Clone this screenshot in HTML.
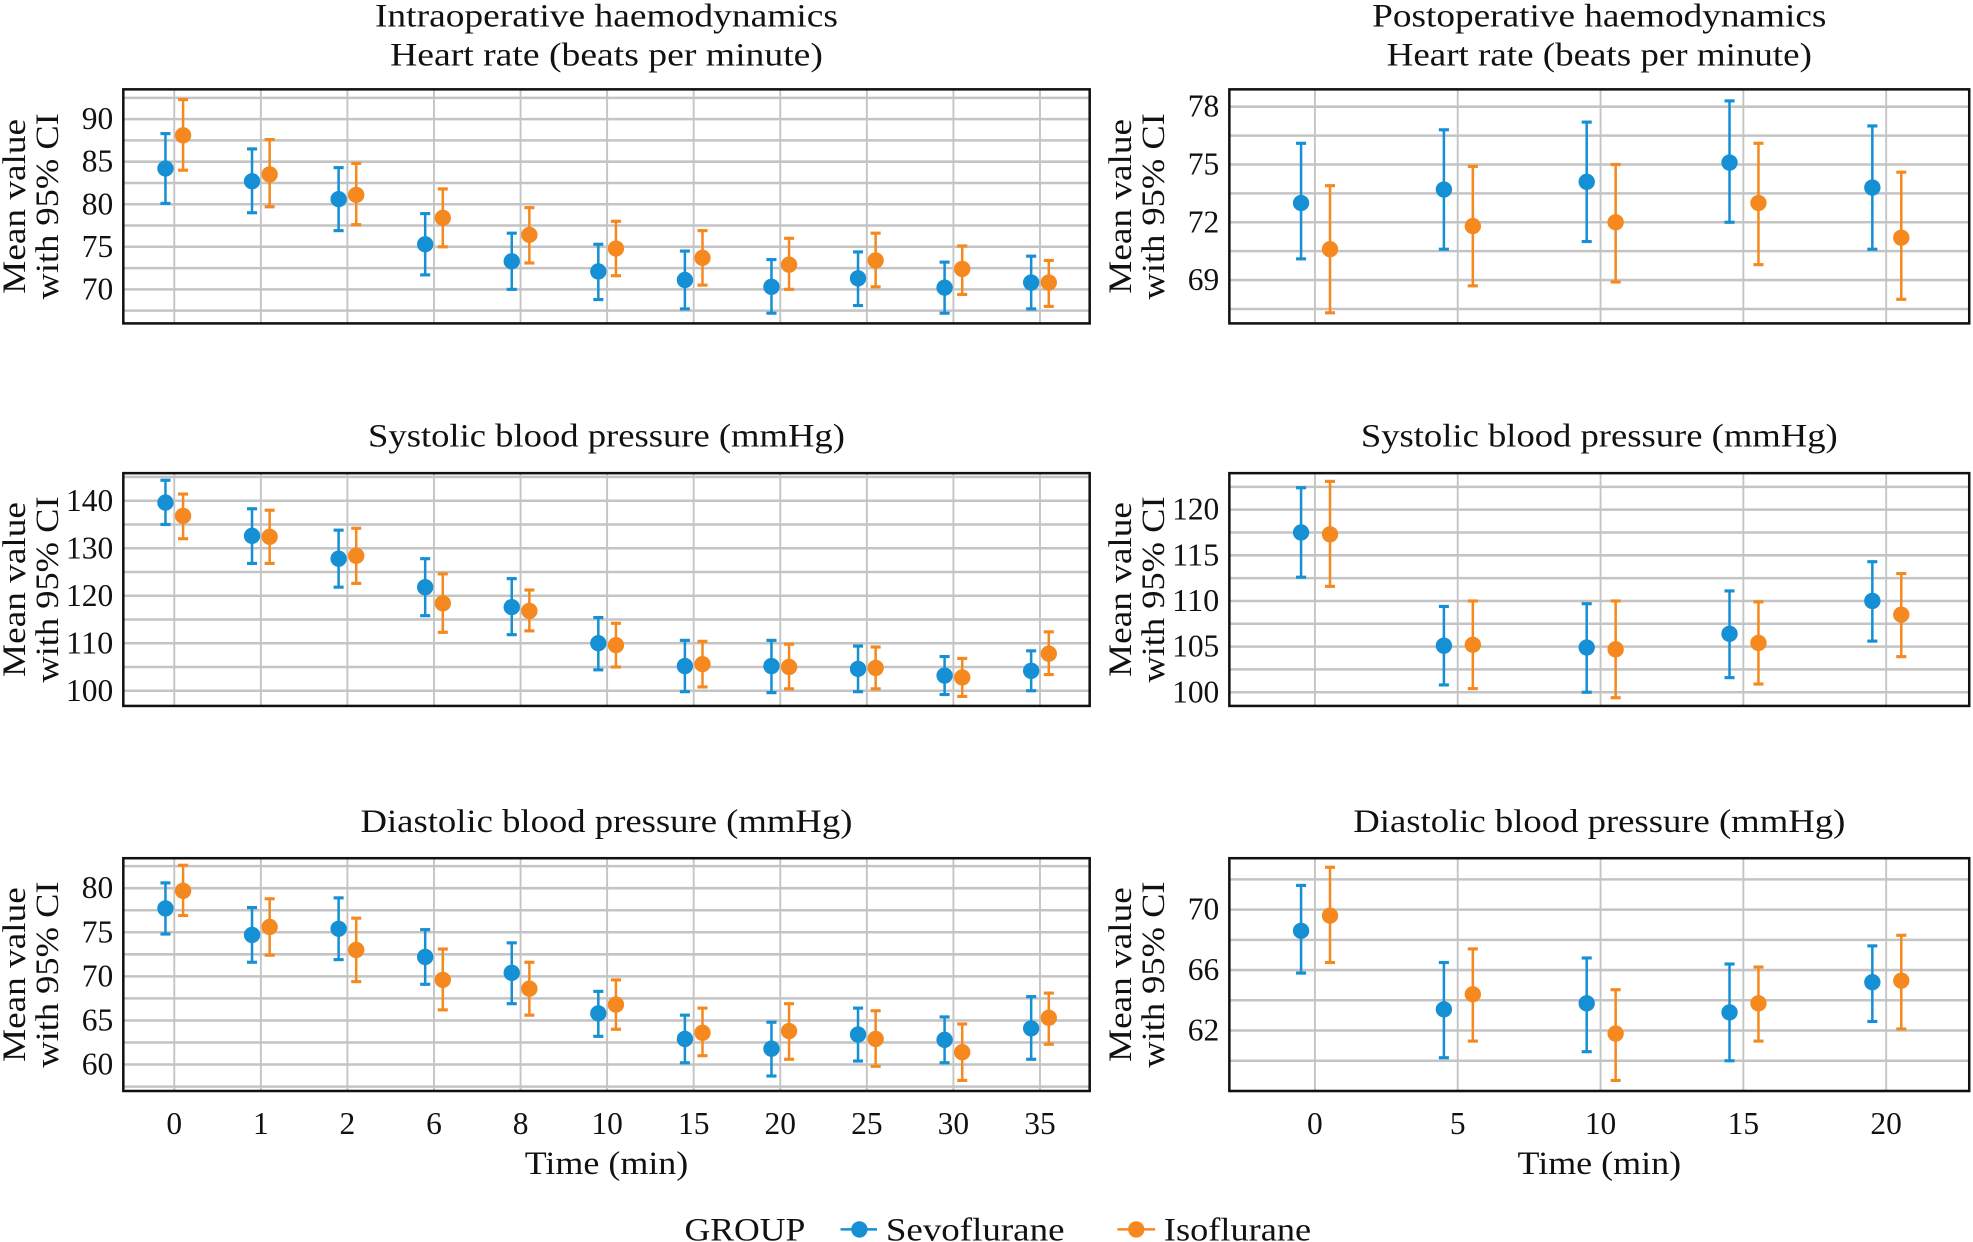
<!DOCTYPE html>
<html><head><meta charset="utf-8"><style>
html,body{margin:0;padding:0;background:#fff;}
svg{display:block;}
text{font-family:"Liberation Serif",serif;fill:#111;}
</style></head><body>
<svg id="s" width="1973" height="1242" viewBox="0 0 1568 987" preserveAspectRatio="none" xmlns="http://www.w3.org/2000/svg"></svg>
<script>
const S=document.getElementById('s');const NS='http://www.w3.org/2000/svg';
function el(t,a,txt){const e=document.createElementNS(NS,t);for(const k in a)e.setAttribute(k,a[k]);if(txt!==undefined)e.textContent=txt;S.appendChild(e);return e;}
function tx(a,txt,len){if(len){a.textLength=len;a.lengthAdjust='spacingAndGlyphs';}return el('text',a,txt);}
const BLUE='#1590d4',ORG='#f5891f';
const L={x0:98,x1:866,cx:i=>138.5+68.8*i,off:[-7,7],cats:['0','1','2','6','8','10','15','20','25','30','35']};
const R={x0:977,x1:1565,cx:i=>1045+113.5*i,off:[-11,12],cats:['0','5','10','15','20']};
const rows=[[71,257],[376,561],[682,867]];
const panels=[
{c:L,r:0,min:66,max:93.5,step:2.5,labs:[70,75,80,85,90],title:['Intraoperative haemodynamics','Heart rate (beats per minute)'],tl:[368,344],
S:[[84.2,80.1,88.3],[82.7,79,86.5],[80.6,76.9,84.3],[75.3,71.7,78.9],[73.3,70,76.6],[72.1,68.8,75.3],[71.1,67.7,74.5],[70.3,67.2,73.5],[71.3,68.1,74.4],[70.2,67.2,73.2],[70.8,67.7,73.9]],
I:[[88.1,84,92.3],[83.5,79.7,87.6],[81.1,77.6,84.8],[78.4,75,81.8],[76.4,73.1,79.6],[74.8,71.6,78],[73.7,70.5,76.9],[72.9,70,76],[73.4,70.3,76.6],[72.4,69.4,75.1],[70.8,68,73.4]]},
{c:R,r:0,min:66.75,max:78.9,step:1.5,labs:[69,72,75,78],title:['Postoperative haemodynamics','Heart rate (beats per minute)'],tl:[361,338],
S:[[73,70.1,76.1],[73.7,70.6,76.8],[74.1,71,77.2],[75.1,72,78.3],[73.8,70.6,77]],
I:[[70.6,67.3,73.9],[71.8,68.7,74.9],[72,68.9,75],[73,69.8,76.1],[71.2,68,74.6]]},
{c:L,r:1,min:96.8,max:145.8,step:5,labs:[100,110,120,130,140],title:['Systolic blood pressure (mmHg)'],tl:[379],
S:[[139.6,135,144.3],[132.6,126.8,138.3],[127.8,121.8,133.8],[121.8,115.8,127.8],[117.6,111.8,123.6],[110,104.4,115.4],[105.2,99.8,110.6],[105.2,99.6,110.6],[104.6,99.8,109.4],[103.2,99.2,107.2],[104.2,100,108.4]],
I:[[136.8,132,141.4],[132.4,126.8,138],[128.4,122.6,134.2],[118.4,112.3,124.6],[116.8,112.6,121.2],[109.6,105,114.2],[105.6,100.8,110.4],[105,100.4,109.8],[104.8,100.4,109.2],[102.8,98.8,106.8],[107.8,103.4,112.4]]},
{c:R,r:1,min:98.5,max:124,step:2.5,labs:[100,105,110,115,120],title:['Systolic blood pressure (mmHg)'],tl:[379],
S:[[117.5,112.6,122.4],[105.1,100.8,109.4],[104.9,100,109.7],[106.4,101.6,111.1],[110,105.6,114.3]],
I:[[117.3,111.6,123.1],[105.2,100.4,110],[104.7,99.4,110],[105.4,100.9,109.9],[108.5,103.9,113]]},
{c:L,r:2,min:57,max:83.4,step:2.5,labs:[60,65,70,75,80],title:['Diastolic blood pressure (mmHg)'],tl:[391],
S:[[77.7,74.8,80.6],[74.7,71.6,77.8],[75.4,71.9,78.9],[72.2,69.1,75.3],[70.4,66.9,73.8],[65.8,63.2,68.3],[62.9,60.2,65.6],[61.8,58.7,64.8],[63.4,60.4,66.4],[62.8,60.2,65.4],[64.1,60.6,67.7]],
I:[[79.7,76.9,82.6],[75.6,72.4,78.8],[73,69.4,76.6],[69.6,66.2,73.1],[68.6,65.6,71.6],[66.8,64,69.6],[63.6,61,66.4],[63.8,60.6,66.9],[62.9,59.8,66.1],[61.4,58.2,64.6],[65.3,62.3,68.1]]},
{c:R,r:2,min:58,max:73.4,step:2,labs:[62,66,70],title:['Diastolic blood pressure (mmHg)'],tl:[391],
S:[[68.6,65.8,71.6],[63.4,60.2,66.5],[63.8,60.6,66.8],[63.2,60,66.4],[65.2,62.6,67.6]],
I:[[69.6,66.5,72.8],[64.4,61.3,67.4],[61.8,58.7,64.7],[63.8,61.3,66.2],[65.3,62.1,68.3]]}
];
for(const p of panels){
 const c=p.c,[y0,y1]=rows[p.r];
 const Y=v=>y1-(v-p.min)/(p.max-p.min)*(y1-y0);
 for(let v=Math.ceil(p.min/p.step)*p.step;v<=p.max;v+=p.step)
  el('line',{x1:c.x0,x2:c.x1,y1:Y(v),y2:Y(v),stroke:'#c4c4c4','stroke-width':2});
 c.cats.forEach((_,i)=>el('line',{x1:c.cx(i),x2:c.cx(i),y1:y0,y2:y1,stroke:'#c4c4c4','stroke-width':1.5}));
 el('rect',{x:c.x0,y:y0,width:c.x1-c.x0,height:y1-y0,fill:'none',stroke:'#111','stroke-width':2});
 for(const v of p.labs) tx({x:c.x0-8,y:Y(v)+8,'text-anchor':'end','font-size':25},String(v),String(v).length*12.5);
 const mx=(c.x0+c.x1)/2;
 if(p.title.length==2){tx({x:mx,y:y0-50,'text-anchor':'middle','font-size':26},p.title[0],p.tl[0]);tx({x:mx,y:y0-19,'text-anchor':'middle','font-size':26},p.title[1],p.tl[1]);}
 else tx({x:mx,y:y0-21,'text-anchor':'middle','font-size':26},p.title[0],p.tl[0]);
 const ax=c.x0-80,my=(y0+y1)/2;
 tx({x:0,y:0,'text-anchor':'middle','font-size':26,transform:`translate(${ax+2},${my}) rotate(-90)`},'Mean value',139);
 tx({x:0,y:0,'text-anchor':'middle','font-size':26,transform:`translate(${ax+28},${my}) rotate(-90)`},'with 95% CI',148);
 [[p.S,BLUE,c.off[0]],[p.I,ORG,c.off[1]]].forEach(([d,col,o])=>{
  d.forEach((v,i)=>{const x=c.cx(i)+o;
   el('line',{x1:x,x2:x,y1:Y(v[1]),y2:Y(v[2]),stroke:col,'stroke-width':2});
   el('line',{x1:x-4,x2:x+4,y1:Y(v[1]),y2:Y(v[1]),stroke:col,'stroke-width':2.5});
   el('line',{x1:x-4,x2:x+4,y1:Y(v[2]),y2:Y(v[2]),stroke:col,'stroke-width':2.5});
   el('circle',{cx:x,cy:Y(v[0]),r:6.5,fill:col});
  });
 });
 if(p.r==2){
  c.cats.forEach((t,i)=>tx({x:c.cx(i),y:901,'text-anchor':'middle','font-size':25},t,t.length*12.5));
  tx({x:mx,y:933,'text-anchor':'middle','font-size':26},'Time (min)',130);
 }
}
tx({x:544,y:986,'font-size':26},'GROUP',96);
el('line',{x1:668,x2:697,y1:977,y2:977,stroke:BLUE,'stroke-width':2});el('circle',{cx:683,cy:977,r:6.5,fill:BLUE});
tx({x:704,y:986,'font-size':26},'Sevoflurane',142);
el('line',{x1:888,x2:918,y1:977,y2:977,stroke:ORG,'stroke-width':2});el('circle',{cx:903,cy:977,r:6.5,fill:ORG});
tx({x:925,y:986,'font-size':26},'Isoflurane',117);
</script>
</body></html>
